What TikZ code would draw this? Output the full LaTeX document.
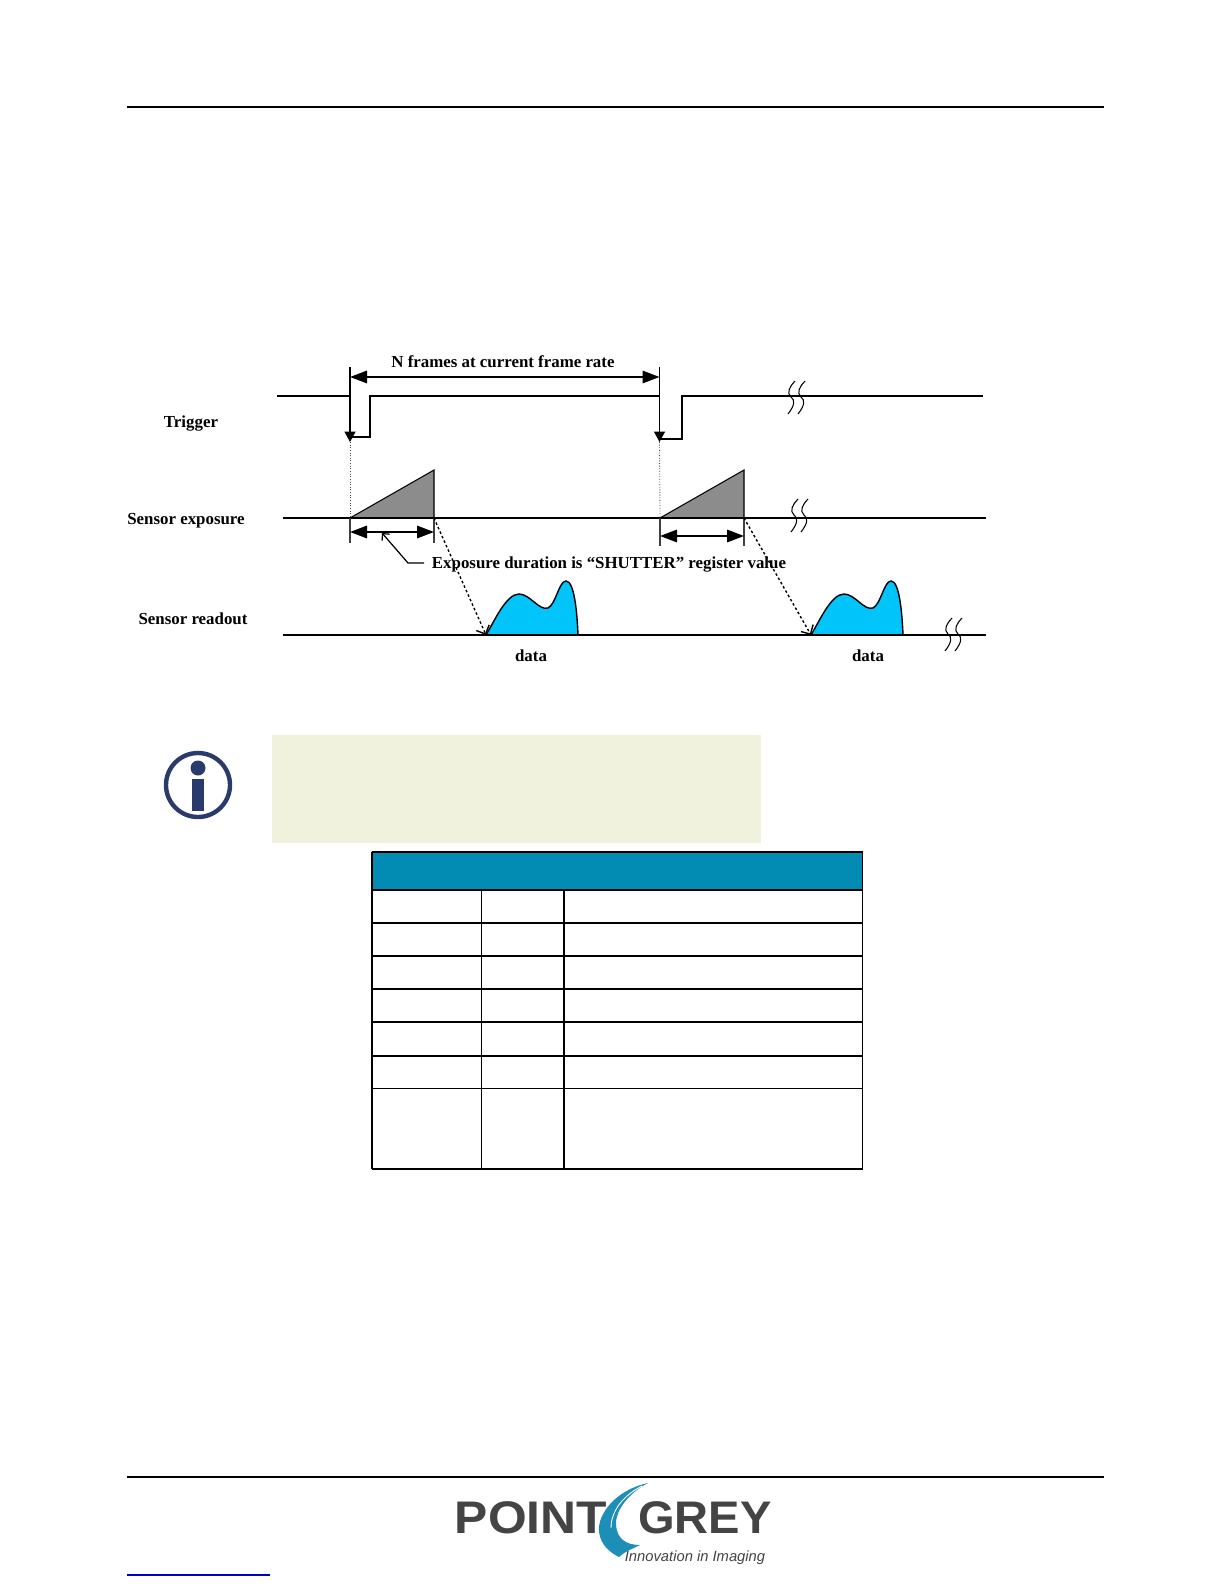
\documentclass[tikz,border=0pt]{standalone}
\usepackage{fontspec}
\setmainfont{Liberation Serif}
\newfontfamily\logofont{Liberation Sans}
\usepackage{xcolor}
\usetikzlibrary{arrows.meta}
\definecolor{creambox}{HTML}{F0F2DE}
\definecolor{tablehead}{HTML}{038CB3}
\definecolor{pulsefill}{HTML}{00C4FA}
\definecolor{infoblue}{HTML}{2A3A6C}
\definecolor{logogrey}{HTML}{444444}
\definecolor{logoblue}{HTML}{1D8EB5}
\tikzset{
    wave/.style={line width=0.9pt},
    tick/.style={line width=0.7pt, draw=black!75},
    span/.style={line width=0.9pt, {Triangle[length=0.34cm,width=0.25cm]}-{Triangle[length=0.34cm,width=0.25cm]}},
    fall/.style={line width=0.9pt, -{Triangle[length=0.21cm,width=0.22cm]}},
    guide/.style={black!70, densely dotted, line width=0.5pt},
    lag/.style={line width=0.8pt, dash pattern=on 1.4pt off 1.4pt, -{Straight Barb[length=0.14cm]}},
    lab/.style={font=\fontsize{9.6}{11}\selectfont\bfseries, inner sep=0pt},
    thickcell/.style={line width=0.95pt},
    thincell/.style={line width=0.6pt},
    logotext/.style={logogrey, font=\logofont\bfseries\fontsize{26}{26}\selectfont, inner sep=0pt},
}
\newcommand{\breakmark}[2]{
    \foreach \d in {0,10}
        \draw[line width=0.6pt] (#1+\d-1,#2-16) .. controls (#1+\d-6,#2-11) and (#1+\d-10,#2-4) .. (#1+\d-5,#2)
            .. controls (#1+\d-1,#2+3) and (#1+\d-1,#2+8) .. (#1+\d-8,#2+17);
}
\newcommand{\datashape}[1]{
    \draw[fill=pulsefill, line width=0.8pt] (#1,635) .. controls (#1+8,622) and (#1+20,594) .. (#1+33,594)
        .. controls (#1+44,594) and (#1+53,611) .. (#1+62,608)
        .. controls (#1+70,604) and (#1+73,581) .. (#1+80,581)
        .. controls (#1+88,581) and (#1+91,610) .. (#1+92,635) -- cycle;
}
\begin{document}
\begin{tikzpicture}[x=0.02cm, y=-0.02cm]
    \useasboundingbox (0,0) rectangle (1224,1584);
    \fill[white] (0,0) rectangle (1224,1584);

    % page rules
    \draw[line width=1.2pt] (127,107) -- (1104,107);
    \draw[line width=1.2pt] (127,1477) -- (1104,1477);
    \draw[blue!80!black, line width=0.6pt] (127,1575) -- (270,1575);

    % signal names
    \node[lab] (trigger) at (191,424) {Trigger};
    \node[lab] (exposure) at (186,521) {Sensor exposure};
    \node[lab] (readout) at (193,619) {Sensor readout};
    \node[lab] (frames) at (503,362) {N frames at current frame rate};
    \node[lab] (shutter) at (609,565) {Exposure duration is “SHUTTER” register value};
    \node[lab] (dataa) at (531,656) {data};
    \node[lab] (datab) at (868,656) {data};

    \coordinate (fa) at (350,437);
    \coordinate (fb) at (659.5,439);
    \coordinate (ea) at (350,518);
    \coordinate (eb) at (434,518);
    \coordinate (ec) at (660,518);
    \coordinate (ed) at (744,518);
    \coordinate (ra) at (486,635);
    \coordinate (rb) at (811,635);
    \coordinate (la) at (382,533);
    \coordinate (lb) at (408,563);
    \coordinate (lc) at (424,563);

    % grey ramps
    \fill[black!45] (ea) -- (434,470) -- (eb) -- cycle;
    \draw[line width=0.6pt] (ea) -- (434,470) -- (eb);
    \fill[black!45] (ec) -- (744,470) -- (ed) -- cycle;
    \draw[line width=0.6pt] (ec) -- (744,470) -- (ed);

    % data shapes
    \datashape{486}
    \datashape{811}

    % levels
    \draw[wave] (277,396) -- (350,396);
    \draw[wave] (fa) -- (370,437) -- (370,396) -- (659.5,396);
    \draw[wave] (fb) -- (682,439) -- (682,396) -- (983,396);
    \draw[wave] (283,518) -- (986,518);
    \draw[wave] (283,635) -- (986,635);

    % breaks
    \breakmark{796}{397}
    \breakmark{799}{515}
    \breakmark{953}{634}

    % trigger edges
    \draw[fall] (350,367) -- (350,442);
    \draw[fall] (659.5,367) -- (659.5,442);
    \draw[span] (350,377) -- (659.5,377);
    \draw[guide] (350,442) -- (ea);
    \draw[guide] (659.5,442) -- (ec);

    % exposure spans
    \foreach \l/\r/\h/\e in {ea/eb/532/543, ec/ed/536/546} {
        \draw[tick] (\l) -- (\l |- 0,\e);
        \draw[tick] (\r) -- (\r |- 0,\e);
        \draw[span] (\l |- 0,\h) -- (\r |- 0,\h);
    }
    \draw[line width=0.7pt, {Straight Barb[length=0.1cm]}-] (la) -- (lb) -- (lc);

    % readout delay
    \draw[lag] (eb) -- (ra);
    \draw[lag] (ed) -- (rb);

    % note icon and box
    \draw[infoblue, line width=2.5pt] (198,785) circle (32);
    \fill[infoblue] (198,768) circle (7.5);
    \fill[infoblue] (192,779) rectangle (204,811);
    \fill[creambox] (272,735) rectangle (761,843);

    % table
    \fill[tablehead] (372,852) rectangle (862.5,890);
    \draw[thincell] (372,852) -- (862.5,852) -- (862.5,1169) -- (372,1169);
    \draw[thickcell] (372,852) -- (372,1169);
    \foreach \y in {890,923,956,989,1022}
        \draw[thickcell] (372,\y) -- (862.5,\y);
    \foreach \y in {1056,1088.5}
        \draw[thincell] (372,\y) -- (862.5,\y);
    \draw[thincell] (481.5,890) -- (481.5,1169);
    \draw[thickcell] (564,890) -- (564,1169);

    % logo
    \fill[logoblue] (648,1483) .. controls (615,1490) and (597,1515) .. (599,1532)
        .. controls (601,1546) and (611,1553) .. (619,1557)
        .. controls (624,1552) and (632,1549) .. (640,1545)
        .. controls (625,1545) and (617,1538) .. (616,1525)
        .. controls (615,1510) and (630,1492) .. (648,1483) -- cycle;
    \draw[white, line width=0.5pt] (642,1486) .. controls (622,1496) and (611,1512) .. (611,1528);
    \node[logotext] (logoa) at (531,1518) {\scalebox{1.09}[1]{POINT}};
    \node[logotext] (logob) at (705,1518) {\scalebox{1.03}[1]{GREY}};
    \node[logogrey, font=\logofont\itshape\fontsize{8.4}{10}\selectfont, inner sep=0pt] (logoc) at (695,1558) {Innovation in Imaging};
\end{tikzpicture}
\end{document}
